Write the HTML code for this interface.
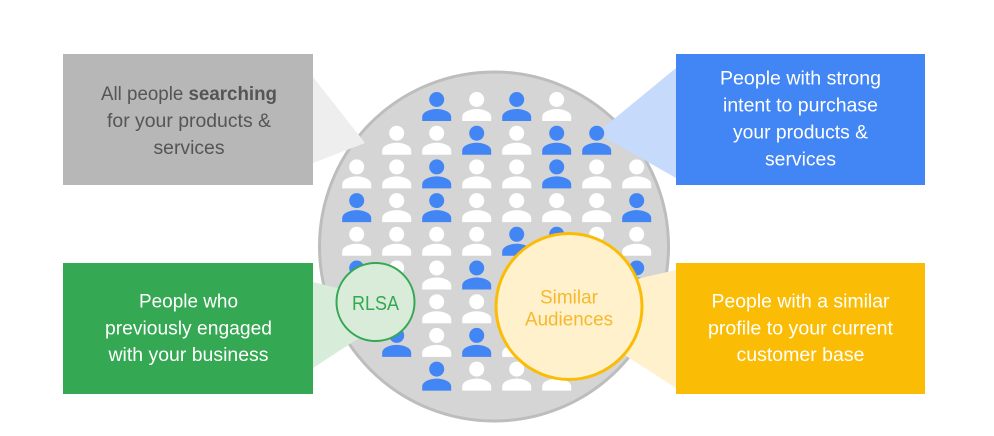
<!DOCTYPE html>
<html>
<head>
<meta charset="utf-8">
<style>
  html, body { margin: 0; padding: 0; background: #ffffff; }
  body { width: 994px; height: 436px; overflow: hidden; }
  svg { display: block; }
  text { font-family: "Liberation Sans", Arial, sans-serif; }
</style>
</head>
<body>
<svg width="994" height="436" viewBox="0 0 994 436" xmlns="http://www.w3.org/2000/svg">
  <defs>
    <g id="p">
      <circle cx="0" cy="0" r="7.5"/>
      <path d="M-14.5 21.5V17.5C-14.5 12 -6 9.5 0 9.5S14.5 12 14.5 17.5V21.5Z"/>
    </g>
  </defs>

  <rect x="0" y="0" width="994" height="436" fill="#ffffff"/>

  <!-- big circle -->
  <circle cx="494" cy="246.5" r="174.5" fill="#d5d5d5" stroke="#bdbdbd" stroke-width="3"/>

  <!-- grey & blue wedges (under icons) -->
  <polygon points="313,77 365,143 313,163" fill="#eeeeee"/>
  <polygon points="676,68 597,133 676,178" fill="#c6dafc"/>

  <!-- icons -->
  <g>
    <!-- row 1 -->
    <use href="#p" x="436.7" y="99.5" fill="#4285f4"/>
    <use href="#p" x="476.7" y="99.5" fill="#ffffff"/>
    <use href="#p" x="516.7" y="99.5" fill="#4285f4"/>
    <use href="#p" x="556.7" y="99.5" fill="#ffffff"/>
    <!-- row 2 -->
    <use href="#p" x="396.7" y="133.2" fill="#ffffff"/>
    <use href="#p" x="436.7" y="133.2" fill="#ffffff"/>
    <use href="#p" x="476.7" y="133.2" fill="#4285f4"/>
    <use href="#p" x="516.7" y="133.2" fill="#ffffff"/>
    <use href="#p" x="556.7" y="133.2" fill="#4285f4"/>
    <use href="#p" x="596.7" y="133.2" fill="#4285f4"/>
    <!-- row 3 -->
    <use href="#p" x="356.7" y="166.9" fill="#ffffff"/>
    <use href="#p" x="396.7" y="166.9" fill="#ffffff"/>
    <use href="#p" x="436.7" y="166.9" fill="#4285f4"/>
    <use href="#p" x="476.7" y="166.9" fill="#ffffff"/>
    <use href="#p" x="516.7" y="166.9" fill="#ffffff"/>
    <use href="#p" x="556.7" y="166.9" fill="#4285f4"/>
    <use href="#p" x="596.7" y="166.9" fill="#ffffff"/>
    <use href="#p" x="636.7" y="166.9" fill="#ffffff"/>
    <!-- row 4 -->
    <use href="#p" x="356.7" y="200.6" fill="#4285f4"/>
    <use href="#p" x="396.7" y="200.6" fill="#ffffff"/>
    <use href="#p" x="436.7" y="200.6" fill="#4285f4"/>
    <use href="#p" x="476.7" y="200.6" fill="#ffffff"/>
    <use href="#p" x="516.7" y="200.6" fill="#ffffff"/>
    <use href="#p" x="556.7" y="200.6" fill="#ffffff"/>
    <use href="#p" x="596.7" y="200.6" fill="#ffffff"/>
    <use href="#p" x="636.7" y="200.6" fill="#4285f4"/>
    <!-- row 5 -->
    <use href="#p" x="356.7" y="234.3" fill="#ffffff"/>
    <use href="#p" x="396.7" y="234.3" fill="#ffffff"/>
    <use href="#p" x="436.7" y="234.3" fill="#ffffff"/>
    <use href="#p" x="476.7" y="234.3" fill="#ffffff"/>
    <use href="#p" x="516.7" y="234.3" fill="#4285f4"/>
    <use href="#p" x="556.7" y="234.3" fill="#4285f4"/>
    <use href="#p" x="596.7" y="234.3" fill="#ffffff"/>
    <use href="#p" x="636.7" y="234.3" fill="#ffffff"/>
    <!-- row 6 -->
    <use href="#p" x="356.7" y="268" fill="#4285f4"/>
    <use href="#p" x="396.7" y="268" fill="#ffffff"/>
    <use href="#p" x="436.7" y="268" fill="#ffffff"/>
    <use href="#p" x="476.7" y="268" fill="#4285f4"/>
    <use href="#p" x="516.7" y="268" fill="#ffffff"/>
    <use href="#p" x="636.7" y="268" fill="#4285f4"/>
    <!-- row 7 -->
    <use href="#p" x="436.7" y="301.7" fill="#ffffff"/>
    <use href="#p" x="476.7" y="301.7" fill="#ffffff"/>
    <!-- row 8 -->
    <use href="#p" x="396.7" y="335.4" fill="#4285f4"/>
    <use href="#p" x="436.7" y="335.4" fill="#ffffff"/>
    <use href="#p" x="476.7" y="335.4" fill="#4285f4"/>
    <use href="#p" x="516.7" y="335.4" fill="#ffffff"/>
    <!-- row 9 -->
    <use href="#p" x="436.7" y="369.1" fill="#4285f4"/>
    <use href="#p" x="476.7" y="369.1" fill="#ffffff"/>
    <use href="#p" x="516.7" y="369.1" fill="#ffffff"/>
    <use href="#p" x="556.7" y="369.1" fill="#ffffff"/>
  </g>

  <!-- green & yellow wedges (over icons) -->
  <polygon points="313,282 408,306 313,368" fill="#d7ecd9"/>
  <polygon points="676,270 541,301 676,388" fill="#fef1cb"/>

  <!-- RLSA circle -->
  <circle cx="375.5" cy="302" r="39" fill="#d9ecd9" stroke="#34a853" stroke-width="2"/>
  <text x="375.5" y="310" text-anchor="middle" font-size="20" fill="#34a853" textLength="47" lengthAdjust="spacingAndGlyphs">RLSA</text>

  <!-- Similar Audiences circle -->
  <circle cx="569" cy="306.5" r="73" fill="#fef1cb" stroke="#fbbc05" stroke-width="3"/>
  <text x="569" y="303.5" text-anchor="middle" font-size="19.5" fill="#f7b82c" textLength="58" lengthAdjust="spacingAndGlyphs">Similar</text>
  <text x="569" y="325.5" text-anchor="middle" font-size="19.5" fill="#f7b82c" textLength="88" lengthAdjust="spacingAndGlyphs">Audiences</text>

  <!-- grey box -->
  <rect x="63" y="54" width="250" height="131" fill="#b7b7b7"/>
  <g font-size="19" fill="#555555" text-anchor="middle">
    <text x="189" y="100" textLength="176" lengthAdjust="spacingAndGlyphs">All people <tspan font-weight="bold">searching</tspan></text>
    <text x="189" y="127" textLength="164" lengthAdjust="spacingAndGlyphs">for your products &amp;</text>
    <text x="189" y="154" textLength="71" lengthAdjust="spacingAndGlyphs">services</text>
  </g>

  <!-- blue box -->
  <rect x="676" y="54" width="249" height="131" fill="#4285f4"/>
  <g font-size="19" fill="#ffffff" text-anchor="middle">
    <text x="800.5" y="84.5" textLength="161" lengthAdjust="spacingAndGlyphs">People with strong</text>
    <text x="800.5" y="111.5" textLength="155" lengthAdjust="spacingAndGlyphs">intent to purchase</text>
    <text x="800.5" y="138.5" textLength="135" lengthAdjust="spacingAndGlyphs">your products &amp;</text>
    <text x="800.5" y="165.5" textLength="71" lengthAdjust="spacingAndGlyphs">services</text>
  </g>

  <!-- green box -->
  <rect x="63" y="263" width="250" height="131" fill="#34a853"/>
  <g font-size="19" fill="#ffffff" text-anchor="middle">
    <text x="188.5" y="307.5" textLength="99" lengthAdjust="spacingAndGlyphs">People who</text>
    <text x="188.5" y="334.5" textLength="167" lengthAdjust="spacingAndGlyphs">previously engaged</text>
    <text x="188.5" y="361" textLength="160" lengthAdjust="spacingAndGlyphs">with your business</text>
  </g>

  <!-- yellow box -->
  <rect x="676" y="263" width="249" height="131" fill="#fbbc05"/>
  <g font-size="19" fill="#ffffff" text-anchor="middle">
    <text x="800.5" y="307.5" textLength="178" lengthAdjust="spacingAndGlyphs">People with a similar</text>
    <text x="800.5" y="334.5" textLength="185" lengthAdjust="spacingAndGlyphs">profile to your current</text>
    <text x="800.5" y="361" textLength="128" lengthAdjust="spacingAndGlyphs">customer base</text>
  </g>
</svg>
</body>
</html>
